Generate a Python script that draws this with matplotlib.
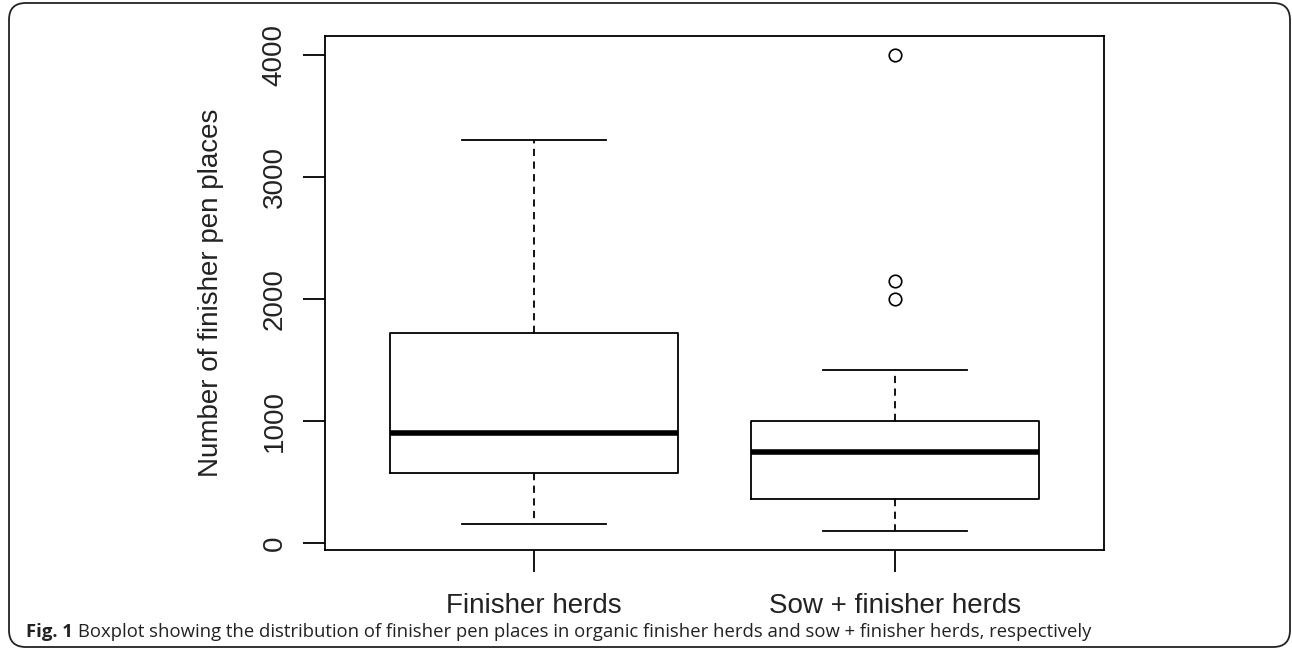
import matplotlib

matplotlib.use("Agg")
import matplotlib.pyplot as plt
from matplotlib.patches import FancyBboxPatch

# kutu istatistikleri
groups = ["Finisher herds", "Sow + finisher herds"]
whis_lo = [155, 100]
q1 = [571, 360]
median = [900, 750]
q3 = [1720, 1000]
whis_hi = [3300, 1420]
outliers = [[], [2000, 2150, 4000]]
yticks = [0, 1000, 2000, 3000, 4000]

fig = plt.figure(figsize=(12.92, 6.55), dpi=100)
W, H = 1292, 655
FS = 20  # R: tum eksen yazilari ayni boyut

# dis cerceve (yuvarlatilmis)
frame = FancyBboxPatch((9 / W, 8 / H), (1290 - 9) / W, (652 - 8) / H,
                       boxstyle="round,pad=0,rounding_size=0.013",
                       transform=fig.transFigure, fill=False,
                       ec="#222222", lw=1.3, mutation_aspect=W / H)
fig.patches.append(frame)

ax = fig.add_axes([325 / W, 1 - 550 / H, (1104 - 325) / W, (550 - 36) / H])

stats = []
for i, g in enumerate(groups):
    stats.append(dict(label=g, whislo=whis_lo[i], q1=q1[i], med=median[i],
                      q3=q3[i], whishi=whis_hi[i], fliers=outliers[i]))

ax.bxp(stats, positions=[1, 2], widths=0.8, showfliers=True,
       boxprops=dict(color="black", lw=1.3),
       medianprops=dict(color="black", lw=4, solid_capstyle="butt"),
       whiskerprops=dict(color="black", lw=1.3, linestyle=(0, (4, 3))),
       capprops=dict(color="black", lw=1.3),
       capwidths=0.4,
       flierprops=dict(marker="o", markersize=9, markerfacecolor="none",
                       markeredgecolor="black", markeredgewidth=1.2))

ax.set_xlim(0.42, 2.58)
ax.set_ylim(-56, 4156)
ax.set_yticks(yticks)
ax.set_yticklabels([str(v) for v in yticks], rotation=90, va="center",
                   fontsize=FS, family="Liberation Sans", color="#222222")
ax.set_xticks([1, 2])
ax.set_xticklabels(groups, fontsize=FS, family="Liberation Sans", color="#222222")
ax.tick_params(axis="both", length=16, width=1.3, color="black")
ax.tick_params(axis="y", pad=11)
ax.tick_params(axis="x", pad=15)
for s in ax.spines.values():
    s.set_linewidth(1.3)
ax.set_ylabel("Number of finisher pen places", fontsize=FS,
              family="Liberation Sans", color="#222222", labelpad=27)

# alt yazi
t = fig.text(26 / W, 1 - 632 / H, "Fig. 1", fontsize=13.3, fontweight="bold",
             family="Open Sans", va="center", ha="left", color="#222222")
fig.canvas.draw()
bb = t.get_window_extent()
fig.text((bb.x1 + 5) / W, 1 - 632 / H,
         "Boxplot showing the distribution of finisher pen places in organic "
         "finisher herds and sow + finisher herds, respectively",
         fontsize=13.3, family="Open Sans", va="center", ha="left",
         color="#222222")

fig.savefig("out.png", dpi=100)
